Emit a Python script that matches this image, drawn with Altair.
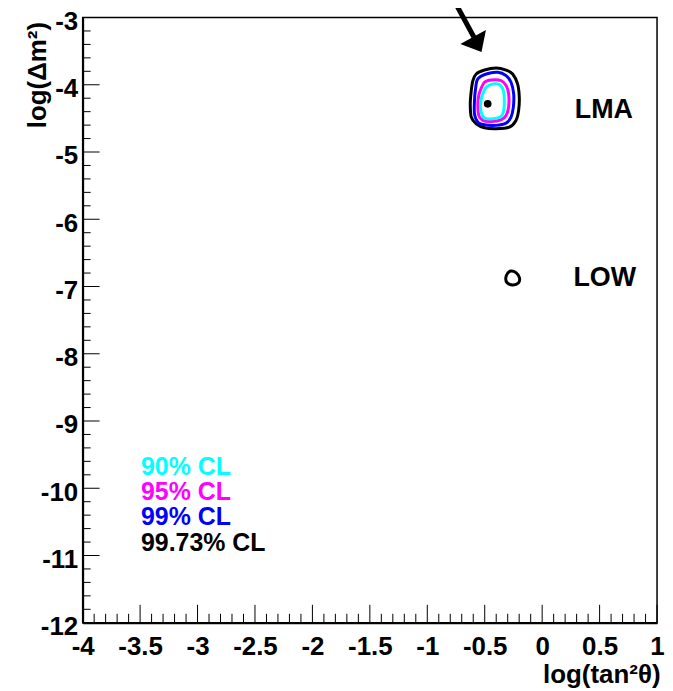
import altair as alt
import pandas as pd

# ---- data (x = log(tan^2 theta), y = log(dm^2)) ----
black_x = [-0.574, -0.502, -0.401, -0.314, -0.257, -0.214, -0.199, -0.205, -0.228, -0.286, -0.401, -0.502, -0.574, -0.617, -0.626, -0.617, -0.603]
black_y = [-3.840, -3.781, -3.751, -3.781, -3.840, -3.988, -4.185, -4.382, -4.530, -4.630, -4.655, -4.640, -4.581, -4.481, -4.284, -4.086, -3.938]

blue_x = [-0.560, -0.487, -0.387, -0.314, -0.271, -0.248, -0.251, -0.271, -0.314, -0.401, -0.502, -0.560, -0.589, -0.589, -0.580]
blue_y = [-3.914, -3.840, -3.815, -3.864, -3.963, -4.136, -4.333, -4.481, -4.570, -4.604, -4.596, -4.556, -4.433, -4.234, -4.062]

magenta_x = [-0.539, -0.502, -0.444, -0.358, -0.314, -0.292, -0.292, -0.314, -0.358, -0.444, -0.517, -0.552, -0.560, -0.552]
magenta_y = [-4.086, -3.963, -3.929, -3.938, -4.012, -4.136, -4.333, -4.456, -4.521, -4.545, -4.530, -4.456, -4.284, -4.160]

cyan_x = [-0.522, -0.487, -0.430, -0.372, -0.338, -0.329, -0.335, -0.358, -0.430, -0.502, -0.531, -0.537]
cyan_y = [-4.160, -4.037, -3.988, -3.997, -4.086, -4.234, -4.382, -4.471, -4.507, -4.496, -4.407, -4.284]

low_x = [-0.271, -0.228, -0.198, -0.207, -0.256, -0.306, -0.317, -0.300]
low_y = [-6.770, -6.794, -6.868, -6.948, -6.977, -6.942, -6.874, -6.800]

best_fit_x = [-0.474]
best_fit_y = [-4.284]

levels = ["99.73% CL", "99% CL", "95% CL", "90% CL"]
level_colors = ["#000000", "#0000ff", "#ff00ff", "#00ffff"]

x_major = [-4, -3.5, -3, -2.5, -2, -1.5, -1, -0.5, 0, 0.5, 1]
y_major = [-12, -11, -10, -9, -8, -7, -6, -5, -4, -3]

# annotation texts
region_names = ["LMA", "LOW"]
region_x = [0.537, 0.545]
region_y = [-4.49, -6.99]

legend_names = ["90% CL", "95% CL", "99% CL", "99.73% CL"]
legend_x = [-3.492, -3.492, -3.492, -3.492]
legend_y = [-9.800, -10.176, -10.552, -10.928]

arrow_start = (-0.762, -2.763)
arrow_end = (-0.585, -3.32)
arrow_tip = (-0.528, -3.514)

# ---- build tables ----
rows = []
for name, lvl, xs_, ys_ in [
    ("lma_9973", "99.73% CL", black_x, black_y),
    ("lma_99", "99% CL", blue_x, blue_y),
    ("lma_95", "95% CL", magenta_x, magenta_y),
    ("lma_90", "90% CL", cyan_x, cyan_y),
    ("low_9973", "99.73% CL", low_x, low_y),
]:
    for i, (a, b) in enumerate(zip(xs_, ys_)):
        rows.append({"contour": name, "level": lvl, "i": i, "x": a, "y": b})
contours = pd.DataFrame(rows)

W, H = 577, 608
FONT = "Liberation Sans"
xs = alt.Scale(domain=[-4, 1], nice=False, zero=False)
ys = alt.Scale(domain=[-12, -3], nice=False, zero=False)

x_minor = [round(-4 + 0.1 * k, 1) for k in range(51)]
x_minor = [v for v in x_minor if v not in x_major]
y_minor = [round(-12 + 0.2 * k, 1) for k in range(46)]
y_minor = [v for v in y_minor if v not in y_major]

contour_layer = alt.Chart(contours).mark_line(
    strokeWidth=3, interpolate="cardinal-closed", clip=True
).encode(
    x=alt.X("x:Q", scale=xs, axis=alt.Axis(
        values=x_major, labelExpr="'' + datum.value", ticks=False, grid=False,
        domain=True, domainColor="black", domainWidth=2,
        labelFont=FONT, labelFontSize=26, labelFontWeight="bold", labelColor="black",
        labelPadding=11, labelFlush=False, labelOverlap=False,
        title="log(tan²θ)", titleFont=FONT, titleFontSize=26, titleFontWeight="bold",
        titleColor="black", titleX=580, titleY=60, titleAlign="right",
        titleBaseline="alphabetic")),
    y=alt.Y("y:Q", scale=ys, axis=alt.Axis(
        values=y_major, labelExpr="'' + datum.value", ticks=False, grid=False,
        domain=True, domainColor="black", domainWidth=2,
        labelFont=FONT, labelFontSize=26, labelFontWeight="bold", labelColor="black",
        labelPadding=5, labelOffset=4, labelFlush=False, labelOverlap=False,
        title="log(Δm²)", titleFont=FONT, titleFontSize=26, titleFontWeight="bold",
        titleColor="black", titleAngle=270, titleX=-37, titleY=4, titleAlign="right",
        titleBaseline="alphabetic")),
    color=alt.Color("level:N", scale=alt.Scale(domain=levels, range=level_colors), legend=None),
    detail="contour:N",
    order="i:Q",
)

dot_layer = alt.Chart(pd.DataFrame({"x": best_fit_x, "y": best_fit_y})).mark_point(
    filled=True, color="black", size=60, opacity=1, shape="circle"
).encode(x=alt.X("x:Q", scale=xs), y=alt.Y("y:Q", scale=ys))

ytick_major = alt.Chart(pd.DataFrame({"v": y_major})).mark_rule(color="black", strokeWidth=1).encode(
    y=alt.Y("v:Q", scale=ys), x=alt.value(0), x2=alt.value(17))
ytick_minor = alt.Chart(pd.DataFrame({"v": y_minor})).mark_rule(color="black", strokeWidth=1).encode(
    y=alt.Y("v:Q", scale=ys), x=alt.value(0), x2=alt.value(8))
xtick_major = alt.Chart(pd.DataFrame({"v": x_major})).mark_rule(color="black", strokeWidth=1).encode(
    x=alt.X("v:Q", scale=xs), y=alt.value(H), y2=alt.value(H - 18))
xtick_minor = alt.Chart(pd.DataFrame({"v": x_minor})).mark_rule(color="black", strokeWidth=1).encode(
    x=alt.X("v:Q", scale=xs), y=alt.value(H), y2=alt.value(H - 9))

region_layer = alt.Chart(pd.DataFrame({"t": region_names, "x": region_x, "y": region_y})).mark_text(
    font=FONT, fontSize=27, fontWeight="bold", color="black", align="center", baseline="alphabetic"
).encode(x=alt.X("x:Q", scale=xs), y=alt.Y("y:Q", scale=ys), text="t:N")

legend_layer = alt.Chart(pd.DataFrame({"t": legend_names, "x": legend_x, "y": legend_y})).mark_text(
    font=FONT, fontSize=25, fontWeight="bold", align="left", baseline="alphabetic"
).encode(
    x=alt.X("x:Q", scale=xs), y=alt.Y("y:Q", scale=ys), text="t:N",
    color=alt.Color("t:N", scale=alt.Scale(domain=legend_names,
                                            range=["#00ffff", "#ff00ff", "#0000ff", "#000000"]), legend=None),
)

arrow_line = alt.Chart(pd.DataFrame({"x": [arrow_start[0]], "y": [arrow_start[1]],
                                     "x2": [arrow_end[0]], "y2": [arrow_end[1]]})).mark_rule(
    color="black", strokeWidth=5, clip=False
).encode(x=alt.X("x:Q", scale=xs), y=alt.Y("y:Q", scale=ys), x2="x2:Q", y2="y2:Q")

arrow_head = alt.Chart(pd.DataFrame({"x": [arrow_tip[0]], "y": [arrow_tip[1]]})).mark_point(
    shape="M0,0L-1,-1.18L1,-1.18Z", filled=True, color="black", opacity=1, size=864, angle=331,
    strokeWidth=0
).encode(x=alt.X("x:Q", scale=xs), y=alt.Y("y:Q", scale=ys))

chart = alt.layer(
    contour_layer, dot_layer, ytick_major, ytick_minor, xtick_major, xtick_minor,
    region_layer, legend_layer, arrow_line, arrow_head
).properties(
    width=W, height=H,
    padding={"left": 75, "top": 8, "right": 8, "bottom": 66},
    autosize=alt.AutoSizeParams(type="none"),
    background="white",
).configure_view(stroke="black", strokeWidth=1.5)

chart.save("out.html", embed_options={"renderer": "svg", "actions": False})
